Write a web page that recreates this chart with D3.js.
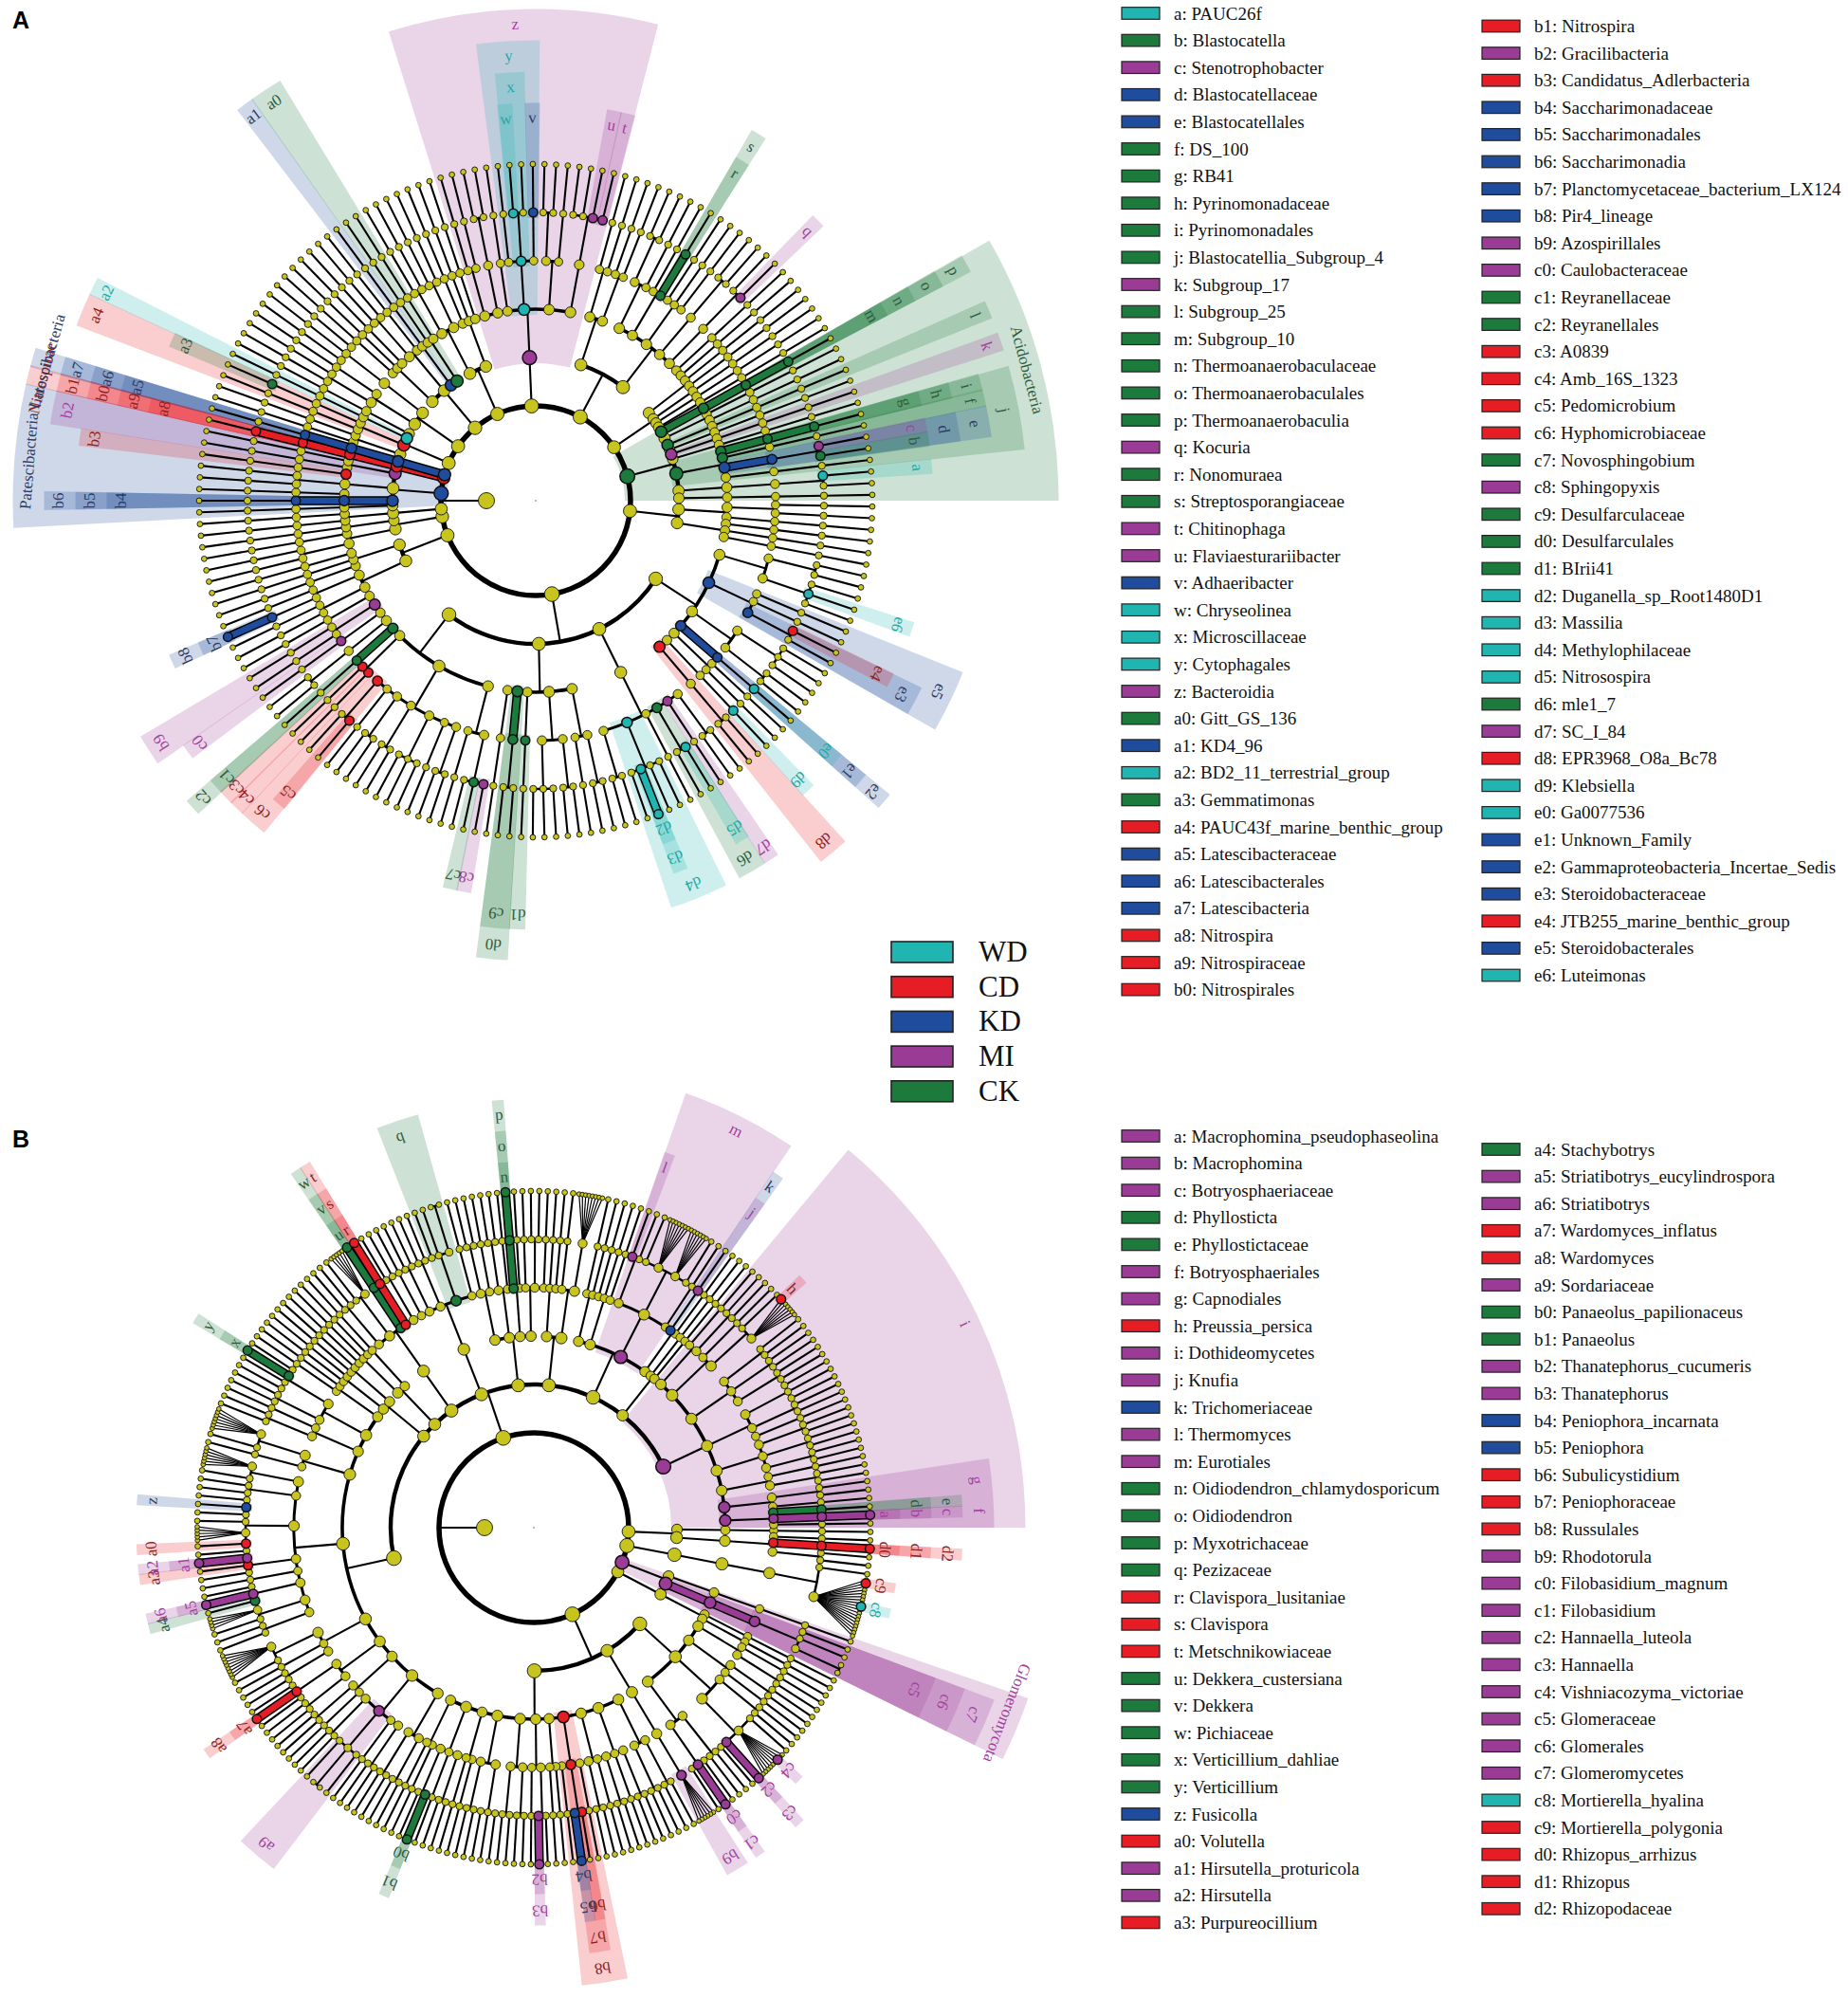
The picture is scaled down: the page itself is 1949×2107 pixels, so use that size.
<!DOCTYPE html>
<html>
<head>
<meta charset="utf-8">
<script src="https://cdn.jsdelivr.net/npm/d3@7"></script>
<style>
body { margin: 0; background: #fff; }
</style>
</head>
<body>
<script>
// Groups
var groupNames = ["WD", "CD", "KD", "MI", "CK"];
var groupColors = ["#21b5b2", "#e71d25", "#1f4c9c", "#9a3c96", "#1b7a3c"];
var labelColors = ["#1ea9a6", "#8c2323", "#2d3b66", "#a2409e", "#2f5c3e"];

// Tree notation: "(" opens a node, a name before "(" labels it,
// a number n = n unbranched lineages down to the outer ring,
// "*n" = one lineage whose genus fans out into n species.

// Panel A (bacteria), clockwise from 3 o'clock
var gammaA = "(((2)(1 e6 1)) e5((1)(1) e3(e4 1)) ((3)(2)) e2(e1(e0)) (2) ((d9)) d8 ((2)))";
var betaA = "(((2) d7 d6 (d5 1) (1) d4 (1 1 d3(d2) 1) (2)))";
var deltaA = "(((2)(1)) ((2)(3)) (d1) d0(c9(2)) 1)";
var alphaA = "(((c8 c7 1)(1)) ((2)(1)(3)(2)(2)(1) c6(c5 1)) (c4 c3) c2(c1) ((2)) (c0) b9((1)(1)) 1)";
var phylaA = [
  "(((2)(1)) (2 1))",
  "Proteobacteria(" + gammaA + " " + betaA + " " + deltaA + " " + alphaA + ")",
  "(((1 1) ((b8(b7)) 1)) (2 1))",
  "(((2)(1)) (1))",
  "((2))",
  "Patescibacteria(1 b6(b5(b4)) ((1)(2) b3) b2 (2))",
  "Nitrospirae(b1(b0(a9(a8))))",
  "Latescibacteria(a7(a6(a5)))",
  "((1 1) a4 (1 ((a3))) a2 1)",
  "(((2)(1)) ((3)))",
  "((2 1) ((2)(1)) a1 (1) a0 (2))",
  "(((2)(2)) (2 1))",
  "(z((1 1) ((2)) 1 y((1) x(w 1) (v)) ((2)(1)) ((1 1 u t))))",
  "(((2)(1 1)) (((2)(1)) ((1) s(r)) (2 1) ((1 1)) ((1 q)) 1 1))",
  "((2)(1) 2)",
  "Acidobacteria(p(o(n(m))) (2) l 1 k 1 j(i(h(g)) f e(d(c b)) 1) (((a 1))) 1)"
];
var keysA = ["a","b","c","d","e","f","g","h","i","j","k","l","m","n","o","p","q","r","s","t","u","v","w","x","y","z",
  "a0","a1","a2","a3","a4","a5","a6","a7","a8","a9","b0","b1","b2","b3","b4","b5","b6","b7","b8","b9",
  "c0","c1","c2","c3","c4","c5","c6","c7","c8","c9","d0","d1","d2","d3","d4","d5","d6","d7","d8","d9",
  "e0","e1","e2","e3","e4","e5","e6"];
var namesA = ["PAUC26f","Blastocatella","Stenotrophobacter","Blastocatellaceae","Blastocatellales","DS_100","RB41",
  "Pyrinomonadaceae","Pyrinomonadales","Blastocatellia_Subgroup_4","Subgroup_17","Subgroup_25","Subgroup_10",
  "Thermoanaerobaculaceae","Thermoanaerobaculales","Thermoanaerobaculia","Kocuria","Nonomuraea","Streptosporangiaceae",
  "Chitinophaga","Flaviaesturariibacter","Adhaeribacter","Chryseolinea","Microscillaceae","Cytophagales","Bacteroidia",
  "Gitt_GS_136","KD4_96","BD2_11_terrestrial_group","Gemmatimonas","PAUC43f_marine_benthic_group","Latescibacteraceae",
  "Latescibacterales","Latescibacteria","Nitrospira","Nitrospiraceae","Nitrospirales","Nitrospira","Gracilibacteria",
  "Candidatus_Adlerbacteria","Saccharimonadaceae","Saccharimonadales","Saccharimonadia","Planctomycetaceae_bacterium_LX124",
  "Pir4_lineage","Azospirillales","Caulobacteraceae","Reyranellaceae","Reyranellales","A0839","Amb_16S_1323","Pedomicrobium",
  "Hyphomicrobiaceae","Novosphingobium","Sphingopyxis","Desulfarculaceae","Desulfarculales","BIrii41","Duganella_sp_Root1480D1",
  "Massilia","Methylophilaceae","Nitrosospira","mle1_7","SC_I_84","EPR3968_O8a_Bc78","Klebsiella","Ga0077536","Unknown_Family",
  "Gammaproteobacteria_Incertae_Sedis","Steroidobacteraceae","JTB255_marine_benthic_group","Steroidobacterales","Luteimonas"];
var groupsA = ["WD","CK","MI","KD","KD","CK","CK","CK","CK","CK","MI","CK","CK","CK","CK","CK","MI","CK","CK","MI","MI","KD","WD","WD","WD","MI",
  "CK","KD","WD","CK","CD","KD","KD","KD","CD","CD","CD","CD","MI","CD","KD","KD","KD","KD","KD","MI",
  "MI","CK","CK","CD","CD","CD","CD","CK","MI","CK","CK","CK","WD","WD","WD","WD","CK","MI","CD","WD",
  "WD","KD","KD","KD","CD","KD","WD"];
var phylumKeysA = ["Acidobacteria", "Patescibacteria", "Nitrospirae", "Latescibacteria"];
var phylumGroupsA = ["CK", "KD", "CD", "KD"];

// Panel B (fungi)
var tremB = "(((1)(2)) ((2)(1)) ((1 1)(1 (2 c4 6) c3(c2) 1)) ((2)(1 c1(c0) 1)))";
var microB = "(((b9(6))))";
var agarB = "(((2)(1 1)) ((2)(1)(2)) (1 (2)) b8((1) b7(b6 b5(b4)) 1) ((1)(1)) ((1 b3(b2)) 1) ((2)(2)) ((1 1 1)(2)) (1 (1)) ((2)(1)(b1(b0) 1)) (2))";
var sordB = "(((1 1)(2)) ((2)(1) a9(1 (2) 1) (1 1)) ((1)(2)) ((1 1) (1 a8(a7) 1)) ((2)(1)(1 *8)) ((1 1)(1 *4)(a4 a6(a5) 1)(1)(1 a3 a2(a1))(1 a0 *5 1 1 z 1)(2)(1 *6)) ((1)(1 *7)) ((2)(1)) ((1 1)(1 1 y(x) 1)) (2))";
var sacchB = "(((1 1)(1 *5) w(v(u)) t(s(r)) (2)))";
var pezizB = "(((1)(2)(2) q(1 1 (2)) (1)))";
var leotB = "(((1 1)(1)) ((2)(1)) (p(o(n)) 1) ((1)(1 1)))";
var euroB = "((1 1) (2 1) m((l 1)(1 *7 *6 1)(1)) (k(j) 1))";
var dothB = "i(((1)(2)) (1 (1 (h 6))) ((2)(1 1)(2)) ((1 1 1)(2)(1)) ((2)(2)(1 1)) ((1)(2)) g((1 1)(1)) f(e(d) c(b(a)) 1))";
var phylaB = [
  "Mucoromycota(1 ((1 d2(d1(d0)) (1 1))))",
  "Mortierellomycota((((1 (1 c9 6 c8 9)))))",
  "Glomeromycota(1 c7(c6(c5(1 1 (2)))))",
  "((1 1))",
  "Basidiomycota(" + tremB + " " + microB + " " + agarB + ")",
  "Ascomycota(" + sordB + " ((1 1)(2)) ((2 1)(1)) " + sacchB + " " + pezizB + " " + leotB + " ((1 1 1)(1 *8)) " + euroB + " (2) " + dothB + ")"
];
var keysB = ["a","b","c","d","e","f","g","h","i","j","k","l","m","n","o","p","q","r","s","t","u","v","w","x","y","z",
  "a0","a1","a2","a3","a4","a5","a6","a7","a8","a9","b0","b1","b2","b3","b4","b5","b6","b7","b8","b9",
  "c0","c1","c2","c3","c4","c5","c6","c7","c8","c9","d0","d1","d2"];
var namesB = ["Macrophomina_pseudophaseolina","Macrophomina","Botryosphaeriaceae","Phyllosticta","Phyllostictaceae",
  "Botryosphaeriales","Capnodiales","Preussia_persica","Dothideomycetes","Knufia","Trichomeriaceae","Thermomyces","Eurotiales",
  "Oidiodendron_chlamydosporicum","Oidiodendron","Myxotrichaceae","Pezizaceae","Clavispora_lusitaniae","Clavispora",
  "Metschnikowiaceae","Dekkera_custersiana","Dekkera","Pichiaceae","Verticillium_dahliae","Verticillium","Fusicolla",
  "Volutella","Hirsutella_proturicola","Hirsutella","Purpureocillium","Stachybotrys","Striatibotrys_eucylindrospora",
  "Striatibotrys","Wardomyces_inflatus","Wardomyces","Sordariaceae","Panaeolus_papilionaceus","Panaeolus",
  "Thanatephorus_cucumeris","Thanatephorus","Peniophora_incarnata","Peniophora","Subulicystidium","Peniophoraceae",
  "Russulales","Rhodotorula","Filobasidium_magnum","Filobasidium","Hannaella_luteola","Hannaella","Vishniacozyma_victoriae",
  "Glomeraceae","Glomerales","Glomeromycetes","Mortierella_hyalina","Mortierella_polygonia","Rhizopus_arrhizus","Rhizopus",
  "Rhizopodaceae"];
var groupsB = ["MI","MI","MI","CK","CK","MI","MI","CD","MI","MI","KD","MI","MI","CK","CK","CK","CK","CD","CD","CD","CK","CK","CK","CK","CK","KD",
  "CD","MI","MI","CD","CK","MI","MI","CD","CD","MI","CK","CK","MI","MI","KD","KD","CD","CD","CD","MI",
  "MI","MI","MI","MI","MI","MI","MI","MI","WD","CD","CD","CD","CD"];
var phylumKeysB = ["Glomeromycota"];
var phylumGroupsB = ["MI"];

var serif = "'Liberation Serif', 'Times New Roman', serif";

var svg = d3.select("body").append("svg")
    .attr("width", 1949)
    .attr("height", 2107)
    .style("background-color", "white");

function parseClades(list) {
    var out = [];
    list.forEach(function(s) {
        var tok = s.match(/\(|\)|\*\d+|\d+|[A-Za-z][A-Za-z0-9_]*/g), i = 0;
        function chain(depth, key, fan) {
            var node = {key: key, children: []};
            if (depth === 5 && fan) {
                for (var k = 0; k < fan; k++) node.children.push({key: null, children: []});
            } else if (depth < 6) {
                node.children.push(chain(depth + 1, null, fan));
            }
            return node;
        }
        function items(depth) {
            var arr = [];
            while (i < tok.length && tok[i] !== ")") {
                var t = tok[i++];
                if (t === "(") {
                    arr.push({key: null, children: items(depth + 1)});
                    i++;
                } else if (t[0] === "*") {
                    arr.push(chain(depth, null, +t.slice(1)));
                } else if (/^\d/.test(t)) {
                    for (var k = 0; k < +t; k++) arr.push(chain(depth, null, 0));
                } else if (tok[i] === "(") {
                    i++;
                    arr.push({key: t, children: items(depth + 1)});
                    i++;
                } else {
                    arr.push(chain(depth, t, 0));
                }
            }
            return arr;
        }
        out = out.concat(items(1));
    });
    return {key: "root", children: out};
}

function drawClado(opt) {
    var cx = opt.cx, cy = opt.cy;
    var marks = {};
    opt.keys.forEach(function(k, i) { marks[k] = {g: groupNames.indexOf(opt.groups[i]), text: k}; });
    opt.phylumKeys.forEach(function(k, i) { marks[k] = {g: groupNames.indexOf(opt.phylumGroups[i]), text: k}; });

    var root = d3.hierarchy(parseClades(opt.clades));
    var leaves = root.leaves();
    leaves.forEach(function(l) {
        l.w = (l.parent.depth === 5 && l.parent.children.length >= 4) ? 0.4 : 1;
    });
    var total = d3.sum(leaves, function(l) { return l.w; });
    var ang = d3.scaleLinear().domain([0, total]).range([0, 360]);
    var rad = d3.scaleLinear().domain([1, 6]).range([100, 355]);
    var labelR = d3.scaleLinear().domain([1, 6]).range([536.5, 371.5]);
    var slot = ang(1);

    var cum = 0;
    leaves.forEach(function(l) {
        l.a = ang(cum + l.w / 2);
        l.s0 = ang(cum);
        l.s1 = ang(cum + l.w);
        cum += l.w;
    });
    root.eachAfter(function(n) {
        if (n.children) {
            var f = n.children[0], z = n.children[n.children.length - 1];
            n.a = (f.a + z.a) / 2;
            n.s0 = f.s0;
            n.s1 = z.s1;
        }
        n.r = n.depth ? rad(n.depth) : 52;
        n.nLeaf = n.leaves().length;
        n.mark = n.data.key ? marks[n.data.key] : null;
    });
    root.a = 180;

    function pt(a, r) {
        var t = a * Math.PI / 180;
        return [cx + r * Math.cos(t), cy + r * Math.sin(t)];
    }
    function rd(a) { return a * Math.PI / 180; }

    var g = svg.append("g");

    // Shaded clade sectors
    var marked = root.descendants().filter(function(n) { return n.mark; });
    marked.sort(function(a, b) { return a.depth - b.depth; });
    var arcGen = d3.arc();
    var gSec = g.append("g");
    marked.forEach(function(n) {
        var s0 = n.s0, s1 = n.s1;
        if (s1 - s0 < slot * 1.1) { s0 = n.a - slot * 0.55; s1 = n.a + slot * 0.55; }
        gSec.append("path")
            .attr("transform", "translate(" + cx + "," + cy + ")")
            .attr("d", arcGen({
                innerRadius: n.r - 6,
                outerRadius: labelR(n.depth) + 15,
                startAngle: rd(s0 + 90),
                endAngle: rd(s1 + 90)
            }))
            .style("fill", groupColors[n.mark.g])
            .style("fill-opacity", 0.22);
    });

    // Branches
    var arcW = [5.5, 4.4, 3.6, 3.0, 2.5, 2.0];
    var gLine = g.append("g").style("fill", "none").style("stroke", "#000");
    root.each(function(n) {
        if (!n.children) return;
        var d = n.depth;
        if (d === 5 && n.children.length >= 4) {
            n.children.forEach(function(c) {
                var p0 = pt(n.a, n.r), p1 = pt(c.a, c.r);
                gLine.append("line")
                    .attr("x1", p0[0]).attr("y1", p0[1])
                    .attr("x2", p1[0]).attr("y2", p1[1])
                    .style("stroke-width", 1.2);
            });
            return;
        }
        var rr = rad(d + 1);
        var p0 = pt(n.a, n.r), p1 = pt(n.a, rr);
        gLine.append("line")
            .attr("x1", p0[0]).attr("y1", p0[1])
            .attr("x2", p1[0]).attr("y2", p1[1])
            .style("stroke-width", 2.1);
        if (d === 0) {
            gLine.append("circle").attr("cx", cx).attr("cy", cy).attr("r", rr)
                .style("stroke-width", arcW[0]);
        } else if (n.children.length > 1) {
            var a0 = n.children[0].a, a1 = n.children[n.children.length - 1].a;
            var p = d3.path();
            var s = pt(a0, rr);
            p.moveTo(s[0], s[1]);
            p.arc(cx, cy, rr, rd(a0), rd(a1));
            gLine.append("path").attr("d", p.toString())
                .style("stroke-width", arcW[d]);
        }
    });

    // Coloured links between marked nodes of one lineage
    var gBar = g.append("g");
    marked.forEach(function(n) {
        var par = n.parent;
        if (!par || !par.mark || par.mark.g !== n.mark.g || par.children.length !== 1) return;
        var p0 = pt(par.a, par.r), p1 = pt(n.a, n.r);
        gBar.append("line")
            .attr("x1", p0[0]).attr("y1", p0[1]).attr("x2", p1[0]).attr("y2", p1[1])
            .style("stroke", "#000").style("stroke-width", 9.5);
        gBar.append("line")
            .attr("x1", p0[0]).attr("y1", p0[1]).attr("x2", p1[0]).attr("y2", p1[1])
            .style("stroke", groupColors[n.mark.g]).style("stroke-width", 6.5);
    });

    // Nodes
    var base = [8.5, 6.0, 5.6, 5.0, 4.4, 3.7, 2.9];
    var nodes = root.descendants().slice().sort(function(a, b) { return (a.mark ? 1 : 0) - (b.mark ? 1 : 0); });
    g.append("g").selectAll("circle")
        .data(nodes)
        .enter()
        .append("circle")
        .attr("cx", function(n) { return pt(n.a, n.r)[0]; })
        .attr("cy", function(n) { return pt(n.a, n.r)[1]; })
        .attr("r", function(n) {
            if (n.depth === 0) return base[0];
            if (n.depth === 6 && n.parent.children.length >= 4 && !n.mark) return 2.4;
            var r = Math.min(7.8, base[n.depth] + 0.35 * Math.log2(n.nLeaf));
            return n.mark ? Math.max(r + 0.4, 4.8) : r;
        })
        .style("fill", function(n) { return n.mark ? groupColors[n.mark.g] : "#c8c41e"; })
        .style("stroke", "#111")
        .style("stroke-width", function(n) { return n.mark ? 1.5 : 0.9; });

    g.append("circle").attr("cx", cx).attr("cy", cy).attr("r", 0.9).style("fill", "#999");

    // Clade labels
    var gTxt = g.append("g");
    marked.forEach(function(n) {
        var p = pt(n.a, labelR(n.depth));
        gTxt.append("text")
            .attr("transform", "translate(" + p[0] + "," + p[1] + ") rotate(" + (n.a + 90) + ")")
            .attr("text-anchor", "middle")
            .attr("dy", "0.35em")
            .style("font-family", serif)
            .style("font-size", "17px")
            .style("fill", labelColors[n.mark.g])
            .text(n.mark.text);
    });
}

function drawLegend(keys, names, groups, cols) {
    var g = svg.append("g");
    cols.forEach(function(c) {
        for (var i = c.from; i < c.to; i++) {
            var y = c.y0 + (i - c.from) * 28.6;
            g.append("rect")
                .attr("x", c.x).attr("y", y - 6.3)
                .attr("width", 40).attr("height", 12.6)
                .style("fill", groupColors[groupNames.indexOf(groups[i])])
                .style("stroke", "#222").style("stroke-width", 1.2);
            g.append("text")
                .attr("x", c.x + 55).attr("y", y + 6.5)
                .style("font-family", serif).style("font-size", "19px").style("fill", "#111")
                .text(keys[i] + ": " + names[i]);
        }
    });
}

drawClado({cx: 565, cy: 528, clades: phylaA, keys: keysA, groups: groupsA,
    phylumKeys: phylumKeysA, phylumGroups: phylumGroupsA});
drawClado({cx: 563, cy: 1611, clades: phylaB, keys: keysB, groups: groupsB,
    phylumKeys: phylumKeysB, phylumGroups: phylumGroupsB});

drawLegend(keysA, namesA, groupsA, [
    {x: 1183, y0: 14, from: 0, to: 37},
    {x: 1563, y0: 27.5, from: 37, to: keysA.length}
]);
drawLegend(keysB, namesB, groupsB, [
    {x: 1183, y0: 1198, from: 0, to: 30},
    {x: 1563, y0: 1212, from: 30, to: keysB.length}
]);

// Group legend
var gl = svg.append("g");
groupNames.forEach(function(name, i) {
    var y = 993 + i * 36.7;
    gl.append("rect").attr("x", 940).attr("y", y).attr("width", 65).attr("height", 22)
        .style("fill", groupColors[i]).style("stroke", "#222").style("stroke-width", 1.6);
    gl.append("text").attr("x", 1032).attr("y", y + 21)
        .style("font-family", serif).style("font-size", "31px").style("fill", "#111")
        .text(name);
});

// Panel letters
svg.append("text").attr("x", 13).attr("y", 30)
    .style("font-family", "'Liberation Sans', Arial, sans-serif").style("font-weight", "bold")
    .style("font-size", "25px").text("A");
svg.append("text").attr("x", 13).attr("y", 1210)
    .style("font-family", "'Liberation Sans', Arial, sans-serif").style("font-weight", "bold")
    .style("font-size", "25px").text("B");
</script>
</body>
</html>
